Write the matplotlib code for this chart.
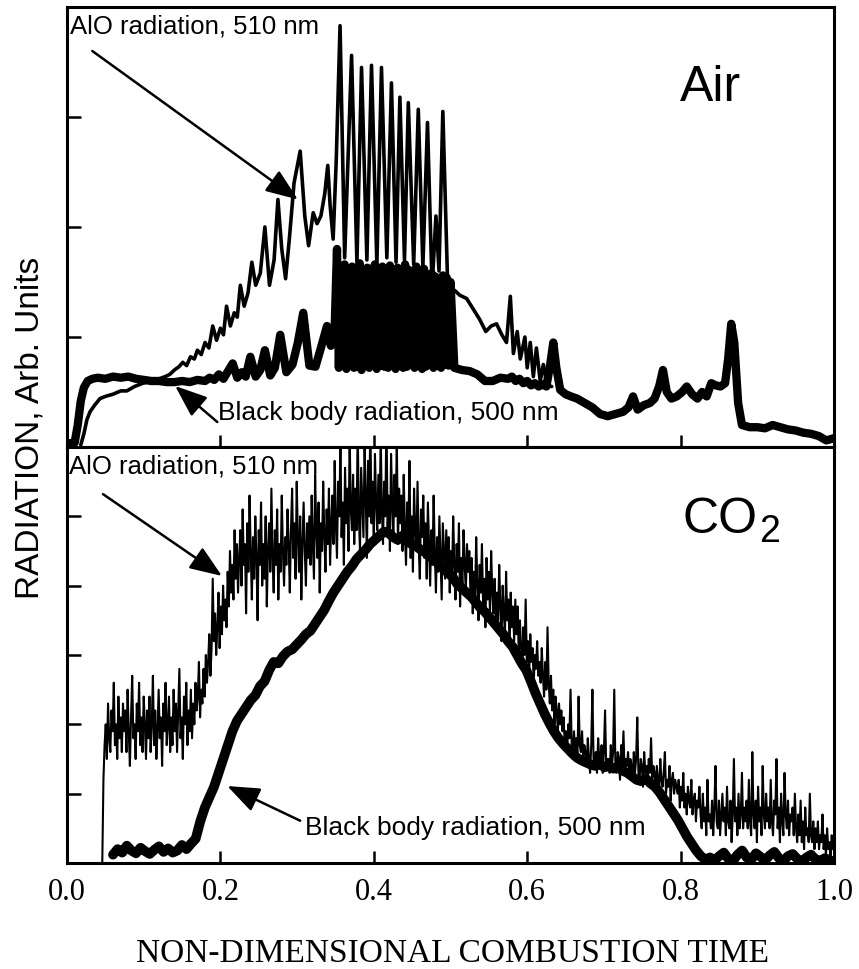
import numpy as np
import matplotlib
matplotlib.use("Agg")
import matplotlib.pyplot as plt

# ---------------- data ----------------
# Top panel (Air) - AlO radiation 510 nm (thin line)
air_alo_x = [0.018, 0.022, 0.026, 0.030, 0.036, 0.043, 0.050, 0.060, 0.070, 0.078,
             0.088, 0.099, 0.110, 0.120, 0.128, 0.134, 0.140, 0.146, 0.151, 0.156,
             0.161, 0.166, 0.170, 0.175, 0.180, 0.185, 0.190, 0.195, 0.200, 0.204,
             0.208, 0.213, 0.218, 0.222, 0.226, 0.231, 0.236, 0.241, 0.246, 0.252,
             0.258, 0.264, 0.270, 0.275, 0.280, 0.285, 0.290, 0.296, 0.304, 0.310,
             0.315, 0.321, 0.326, 0.331, 0.336, 0.340, 0.343, 0.347, 0.351, 0.356,
             0.362, 0.371, 0.378, 0.384, 0.391, 0.397, 0.404, 0.410, 0.417, 0.423,
             0.429, 0.434, 0.440, 0.445, 0.452, 0.458, 0.464, 0.470, 0.476, 0.481,
             0.485, 0.490, 0.496, 0.500, 0.506, 0.512, 0.521, 0.530, 0.538, 0.546,
             0.553, 0.560, 0.567, 0.573, 0.578, 0.582, 0.587, 0.591, 0.597, 0.600,
             0.604, 0.608, 0.612, 0.617, 0.621, 0.626, 0.632]
air_alo_y = [0.02, 0.12, 0.25, 0.32, 0.38, 0.44, 0.46, 0.48, 0.51, 0.51,
             0.55, 0.58, 0.60, 0.62, 0.64, 0.66, 0.70, 0.73, 0.77, 0.74,
             0.82, 0.80, 0.88, 0.84, 0.95, 0.90, 1.10, 0.97, 1.08, 1.02,
             1.28, 1.10, 1.22, 1.18, 1.47, 1.28, 1.40, 1.68, 1.47, 1.58,
             2.00, 1.47, 1.70, 2.25, 1.80, 1.53, 1.90, 2.40, 2.69, 2.10,
             1.83, 2.13, 2.03, 2.10, 2.30, 2.56, 2.20, 1.89, 2.60, 3.83,
             1.72, 3.56, 1.68, 3.45, 1.70, 3.47, 1.66, 3.45, 1.72, 3.31,
             1.68, 3.18, 1.70, 3.13, 1.66, 3.07, 1.64, 2.95, 1.45, 2.10,
             1.60, 3.05, 1.55, 1.45, 1.42, 1.38, 1.35, 1.25, 1.16, 1.05,
             1.10, 1.12, 1.02, 0.95, 1.37, 0.85, 1.05, 0.80, 1.00, 0.72,
             0.95, 0.64, 0.90, 0.60, 0.75, 0.56, 0.55]

# Top panel (Air) - black body radiation 500 nm (thick line)
air_bb_x_start = [0.000, 0.010, 0.014, 0.018, 0.022, 0.027, 0.033, 0.040, 0.050, 0.060,
                  0.070, 0.080, 0.090, 0.100, 0.110, 0.120, 0.130, 0.140, 0.150, 0.160,
                  0.170, 0.180, 0.186, 0.192, 0.198, 0.204, 0.210, 0.216, 0.222, 0.228,
                  0.233, 0.239, 0.246, 0.252, 0.258, 0.265, 0.271, 0.278, 0.286, 0.294,
                  0.301, 0.308, 0.316, 0.324, 0.331, 0.339, 0.344, 0.349]
air_bb_y_start = [0.03, 0.04, 0.20, 0.42, 0.54, 0.60, 0.62, 0.63, 0.62, 0.64,
                  0.63, 0.64, 0.62, 0.61, 0.60, 0.60, 0.59, 0.59, 0.60, 0.59,
                  0.61, 0.60, 0.63, 0.61, 0.66, 0.62, 0.69, 0.76, 0.63, 0.68,
                  0.64, 0.82, 0.64, 0.70, 0.88, 0.65, 0.72, 1.02, 0.68, 0.75,
                  0.95, 1.22, 0.74, 0.73, 0.90, 1.10, 0.92, 1.08]
# dense oscillation block, x from 0.352 to 0.4975 evenly
air_bb_block_range = (0.352, 0.4975)
air_bb_block_y = [1.80, 0.72, 1.62, 0.74, 1.66, 0.71, 1.58, 0.75, 1.64, 0.72,
                  1.60, 0.73, 1.67, 0.70, 1.55, 0.74, 1.63, 0.72, 1.61, 0.76,
                  1.66, 0.71, 1.59, 0.74, 1.64, 0.73, 1.57, 0.72, 1.65, 0.75,
                  1.60, 0.71, 1.63, 0.74, 1.58, 0.72, 1.66, 0.73, 1.61, 0.75,
                  1.56, 0.72, 1.64, 0.74, 1.60, 0.71, 1.62, 0.73, 1.50, 0.76,
                  1.58, 0.72, 1.55, 0.74, 1.52, 0.72, 1.56, 0.75, 1.54, 0.74]
air_bb_x_end = [0.500, 0.505, 0.515, 0.525, 0.535, 0.545, 0.555, 0.565, 0.575, 0.580,
                0.585, 0.590, 0.595, 0.600, 0.605, 0.610, 0.615, 0.620, 0.625, 0.630,
                0.634, 0.638, 0.643, 0.650, 0.657, 0.665, 0.675, 0.685, 0.695, 0.705,
                0.715, 0.725, 0.732, 0.738, 0.744, 0.752, 0.760, 0.766, 0.772, 0.777,
                0.782, 0.788, 0.795, 0.802, 0.808, 0.815, 0.822, 0.828, 0.834, 0.840,
                0.846, 0.852, 0.858, 0.862, 0.866, 0.870, 0.875, 0.880, 0.890, 0.900,
                0.910, 0.920, 0.930, 0.940, 0.950, 0.960, 0.970, 0.980, 0.990, 1.000]
air_bb_y_end = [1.50, 0.72, 0.70, 0.69, 0.66, 0.60, 0.60, 0.63, 0.62, 0.64,
                0.60, 0.62, 0.58, 0.60, 0.56, 0.58, 0.55, 0.57, 0.55, 0.75,
                0.95, 0.72, 0.52, 0.48, 0.46, 0.44, 0.40, 0.36, 0.30, 0.28,
                0.30, 0.32, 0.36, 0.46, 0.34, 0.38, 0.40, 0.44, 0.55, 0.70,
                0.50, 0.44, 0.46, 0.50, 0.55, 0.48, 0.44, 0.50, 0.46, 0.58,
                0.56, 0.55, 0.58, 0.80, 1.12, 0.95, 0.40, 0.20, 0.18, 0.18,
                0.17, 0.20, 0.18, 0.16, 0.15, 0.13, 0.12, 0.10, 0.06, 0.08]

# Bottom panel (CO2) - AlO radiation 510 nm, evenly sampled from x=0.046 to 1.0
co2_alo_range = (0.046, 1.0)
co2_alo_y = [
    0.0, 1.2, 1.7, 2.0, 1.5, 2.3, 1.8, 1.6, 2.2, 1.9, 2.6, 1.7, 2.0, 1.5, 2.4, 1.8, 2.1, 1.6, 2.3, 1.9,
    2.2, 1.6, 2.5, 1.9, 1.4, 2.1, 2.7, 1.8, 2.0, 1.5, 2.3, 1.9, 2.6, 1.7, 2.1, 1.6, 2.4, 2.0, 1.5, 2.2,
    1.8, 2.4, 1.6, 2.0, 2.7, 1.7, 2.2, 1.5, 1.9, 2.5, 1.8, 2.1, 1.4, 2.3, 1.9, 2.6, 1.7, 2.0, 2.4, 1.6,
    2.1, 1.7, 2.5, 1.9, 2.3, 1.6, 2.2, 2.8, 1.8, 2.1, 1.5, 2.4, 2.0, 2.6, 1.7, 2.2, 1.9, 2.5, 1.8, 2.3,
    2.0, 2.6, 2.2, 2.4, 2.9, 2.1, 2.5, 2.3, 2.8, 2.4, 3.0, 2.6, 2.9, 3.3, 2.7, 3.1, 4.1, 3.2, 3.6, 3.0,
    3.4, 3.9, 3.1, 3.7, 3.3, 4.0, 3.5, 3.8, 3.4, 4.2, 3.7, 4.5, 3.9, 4.3, 3.8, 4.8, 4.1, 4.6, 3.9, 4.4,
    4.8, 4.0, 5.1, 4.3, 4.6, 3.6, 4.9, 4.2, 5.3, 4.5, 3.8, 4.7, 4.1, 5.0, 4.4, 3.5, 4.8, 4.3, 5.2, 4.0,
    4.6, 4.1, 5.0, 3.7, 4.5, 4.9, 4.2, 5.4, 4.4, 3.9, 4.8, 4.3, 5.1, 3.8, 4.6, 4.2, 5.3, 4.5, 4.0, 4.7,
    4.3, 5.1, 4.6, 3.9, 4.8, 5.4, 4.4, 4.9, 4.1, 5.5, 4.7, 4.2, 5.0, 3.8, 4.6, 5.2, 4.5, 4.0, 4.9, 4.4,
    5.0, 4.3, 5.3, 4.6, 4.1, 5.6, 4.8, 4.4, 5.2, 3.9, 4.9, 4.5, 5.5, 4.7, 4.2, 5.1, 4.6, 5.4, 4.3, 4.9,
    5.3, 4.6, 5.8, 4.9, 4.4, 5.5, 5.0, 6.1, 4.7, 5.2, 4.3, 5.7, 4.9, 5.4, 4.5, 6.2, 5.1, 4.8, 5.6, 4.6,
    5.4, 4.8, 6.3, 5.0, 4.5, 5.7, 5.2, 4.7, 6.0, 5.3, 4.4, 5.8, 5.0, 6.4, 4.9, 5.5, 4.6, 5.9, 5.2, 4.8,
    5.6, 4.9, 6.2, 5.1, 4.6, 5.5, 5.0, 6.5, 4.8, 5.3, 4.5, 5.9, 5.2, 4.7, 5.6, 5.0, 6.1, 4.6, 5.4, 4.9,
    5.3, 4.5, 5.6, 4.8, 4.3, 5.2, 4.7, 5.8, 4.4, 5.0, 4.2, 5.4, 4.8, 4.5, 5.5, 4.6, 4.1, 5.1, 4.7, 5.3,
    4.4, 4.9, 4.1, 5.2, 4.6, 4.0, 4.8, 4.3, 5.3, 4.5, 3.9, 4.7, 4.2, 5.0, 4.4, 3.8, 4.9, 4.5, 4.1, 4.8,
    4.2, 4.7, 3.9, 4.5, 4.1, 5.0, 4.3, 3.8, 4.6, 4.2, 4.9, 3.7, 4.4, 4.0, 4.8, 4.3, 3.9, 4.6, 4.2, 4.5,
    3.9, 4.4, 3.6, 4.2, 3.8, 4.7, 4.0, 3.5, 4.3, 3.9, 4.6, 3.7, 4.1, 3.4, 4.4, 3.8, 4.2, 3.6, 4.5, 3.9,
    3.6, 4.1, 3.4, 3.9, 3.5, 4.3, 3.7, 3.2, 4.0, 3.6, 3.3, 4.2, 3.5, 3.8, 3.1, 3.9, 3.4, 3.7, 3.2, 3.8,
    3.3, 3.7, 3.0, 3.5, 3.1, 2.8, 3.4, 3.0, 3.8, 2.9, 3.2, 2.7, 3.3, 2.9, 3.1, 2.6, 3.0, 2.8, 3.2, 2.7,
    2.9, 2.6, 3.1, 2.7, 2.4, 2.9, 2.5, 3.4, 2.6, 2.3, 2.7, 2.2, 2.5, 2.0, 2.4, 2.2, 1.9, 2.3, 2.0, 2.2,
    1.9, 2.1, 1.7, 1.9, 1.6, 2.0, 1.8, 2.5, 1.7, 1.5, 1.9, 1.6, 1.8, 1.5, 2.4, 1.7, 1.6, 1.9, 1.5, 1.7,
    1.6, 1.4, 1.8, 1.5, 1.3, 1.7, 2.5, 1.5, 1.4, 1.6, 1.3, 1.8, 1.5, 1.4, 1.7, 1.3, 1.6, 2.2, 1.4, 1.5,
    1.5, 1.3, 1.7, 1.4, 1.6, 2.5, 1.4, 1.3, 1.6, 1.5, 1.2, 1.7, 1.4, 1.9, 1.3, 1.5, 1.4, 1.6, 1.3, 1.5,
    1.4, 1.2, 1.6, 1.3, 1.5, 2.1, 1.3, 1.2, 1.5, 1.4, 1.1, 1.6, 1.3, 1.4, 1.2, 1.5, 1.3, 1.8, 1.2, 1.4,
    1.3, 1.1, 1.4, 1.2, 1.0, 1.5, 1.2, 1.1, 1.3, 1.6, 1.0, 1.2, 1.1, 1.4, 0.9, 1.2, 1.3, 1.0, 1.2, 1.1,
    1.0, 1.2, 0.8, 1.1, 0.9, 1.3, 0.8, 1.0, 0.7, 1.1, 0.9, 0.8, 1.2, 0.7, 0.9, 1.0, 0.6, 0.9, 0.8, 1.1,
    0.7, 0.5, 1.0, 0.6, 0.8, 0.4, 1.2, 0.6, 0.7, 0.5, 0.9, 0.4, 0.8, 1.4, 0.6, 0.5, 0.9, 0.4, 0.7, 1.0,
    0.6, 0.8, 0.4, 1.1, 0.6, 0.5, 0.9, 0.3, 0.7, 1.5, 0.6, 0.8, 0.4, 1.0, 0.5, 0.7, 1.3, 0.5, 0.8, 0.6,
    0.9, 0.5, 1.2, 0.6, 0.4, 1.6, 0.7, 0.5, 0.9, 0.3, 1.1, 0.6, 0.8, 0.4, 1.4, 0.7, 0.5, 1.0, 0.6, 0.8,
    0.5, 1.2, 0.6, 0.4, 0.9, 0.7, 1.5, 0.5, 0.8, 0.3, 1.0, 0.6, 0.4, 1.3, 0.7, 0.5, 0.9, 0.4, 0.7, 0.6,
    0.8, 0.4, 1.0, 0.5, 0.3, 0.7, 0.4, 0.9, 0.3, 0.6, 0.2, 0.8, 0.4, 0.5, 0.3, 1.0, 0.4, 0.3, 0.6, 0.2,
    0.5, 0.3, 0.6, 0.2, 0.4, 0.3, 0.7, 0.2, 0.4, 0.1, 0.5, 0.2, 0.3, 0.1, 0.4, 0.2, 0.3]

# Bottom panel (CO2) - black body radiation 500 nm, evenly sampled from x=0.06 to 1.0
co2_bb_range = (0.06, 1.0)
co2_bb_y = [0.12, 0.20, 0.15, 0.25, 0.18, 0.14, 0.22, 0.17, 0.13, 0.19,
            0.24, 0.16, 0.21, 0.15, 0.18, 0.26, 0.20, 0.28, 0.35,
            0.60, 0.80, 0.95, 1.10, 1.30, 1.50, 1.70, 1.90, 2.05, 2.15,
            2.25, 2.35, 2.42, 2.55, 2.62, 2.78, 2.90, 2.88, 2.98, 3.05,
            3.08, 3.15, 3.22,
            3.30, 3.35, 3.45, 3.55, 3.65, 3.78, 3.90, 4.00, 4.10, 4.20,
            4.28, 4.38, 4.45, 4.52, 4.60, 4.66, 4.72, 4.78,
            4.76, 4.70, 4.66, 4.72, 4.64, 4.60, 4.57, 4.52, 4.48, 4.42,
            4.38, 4.30, 4.24, 4.18, 4.12, 4.02, 3.96, 3.90, 3.84, 3.76,
            3.68, 3.62, 3.54, 3.46, 3.38, 3.30, 3.20, 3.12, 3.00, 2.88,
            2.78, 2.62, 2.45, 2.30, 2.15, 2.02, 1.90, 1.80, 1.72, 1.65,
            1.58, 1.52, 1.48, 1.45, 1.42, 1.40, 1.43, 1.38, 1.40, 1.36,
            1.38, 1.33, 1.30, 1.25, 1.20, 1.18, 1.22, 1.15, 1.10, 1.02,
            0.92, 0.82, 0.72, 0.62, 0.50, 0.38, 0.28, 0.18, 0.10, 0.05,
            0.08, 0.04, 0.10, 0.15, 0.06, 0.03, 0.12, 0.18, 0.08, 0.05,
            0.14, 0.09, 0.04, 0.11, 0.16, 0.07, 0.03, 0.10, 0.13, 0.06,
            0.02, 0.08, 0.12, 0.05, 0.03, 0.07, 0.04, 0.02]

x_ticks = [0.0, 0.2, 0.4, 0.6, 0.8, 1.0]
x_tick_labels = ["0.0", "0.2", "0.4", "0.6", "0.8", "1.0"]
air_y_ticks = [1, 2, 3]
co2_y_ticks = [1, 2, 3, 4, 5]

# ---------------- figure ----------------
W, H = 859, 970
fig = plt.figure(figsize=(W / 100, H / 100), dpi=100)
SANS = "Liberation Sans"
SERIF = "Liberation Serif"

left, right = 67, 834
top_t, top_b = 8, 448
bot_t, bot_b = 448, 864
ax1 = fig.add_axes([left / W, 1 - top_b / H, (right - left) / W, (top_b - top_t) / H])
ax2 = fig.add_axes([left / W, 1 - bot_b / H, (right - left) / W, (bot_b - bot_t) / H])

rnd = dict(solid_joinstyle="round", solid_capstyle="round")

# top panel
bb_x = air_bb_x_start + list(np.linspace(*air_bb_block_range, len(air_bb_block_y))) + air_bb_x_end
bb_y = air_bb_y_start + air_bb_block_y + air_bb_y_end
ax1.plot(bb_x, bb_y, color="black", lw=6.0, **rnd, zorder=3)
ax1.plot(air_alo_x, air_alo_y, color="black", lw=2.6, **rnd, zorder=4)
ax1.set_xlim(0, 1)
ax1.set_ylim(0, 4)
ax1.set_xticks([0.2, 0.4, 0.6, 0.8])
ax1.set_yticks(air_y_ticks)
ax1.tick_params(labelbottom=False, labelleft=False)

# bottom panel
alo_x = np.linspace(*co2_alo_range, len(co2_alo_y))
ax2.plot(alo_x, co2_alo_y, color="black", lw=1.5, zorder=3)
cbb_x = np.linspace(*co2_bb_range, len(co2_bb_y))
ax2.plot(cbb_x, co2_bb_y, color="black", lw=7.0, **rnd, zorder=4)
ax2.set_xlim(0, 1)
ax2.set_ylim(0, 6)
ax2.set_xticks(x_ticks)
ax2.set_xticklabels(x_tick_labels, fontfamily=SERIF, fontsize=22)
ax2.set_yticks(co2_y_ticks)
ax2.tick_params(labelleft=False)

for ax in (ax1, ax2):
    for s in ax.spines.values():
        s.set_linewidth(2.2)
    ax.tick_params(direction="in", length=10, width=1.8, pad=10)
    ax.tick_params(axis="x", length=9)

# annotations, top
arrow = dict(arrowstyle="-|>,head_length=0.9,head_width=0.35", color="black", lw=1.8,
             shrinkA=0, shrinkB=0, mutation_scale=22)
ax1.text(0.004, 3.83, "AlO radiation, 510 nm", fontfamily=SANS, fontsize=18.5,
         ha="left", va="center", zorder=6)
ax1.annotate("", xy=(0.301, 2.25), xytext=(0.033, 3.60), arrowprops=arrow, zorder=6)
ax1.text(0.197, 0.318, "Black body radiation, 500 nm", fontfamily=SANS, fontsize=19,
         ha="left", va="center", zorder=6,
         bbox=dict(facecolor="white", edgecolor="none", pad=0.5))
ax1.annotate("", xy=(0.141, 0.555), xytext=(0.196, 0.227), arrowprops=arrow, zorder=6)
ax1.text(0.799, 3.27, "Air", fontfamily=SANS, fontsize=36, ha="left", va="center")

# annotations, bottom
ax2.text(0.002, 5.73, "AlO radiation, 510 nm", fontfamily=SANS, fontsize=18.5,
         ha="left", va="center", zorder=6)
ax2.annotate("", xy=(0.202, 4.14), xytext=(0.047, 5.32), arrowprops=arrow, zorder=6)
ax2.text(0.31, 0.52, "Black body radiation, 500 nm", fontfamily=SANS, fontsize=19,
         ha="left", va="center", zorder=6)
ax2.annotate("", xy=(0.209, 1.11), xytext=(0.304, 0.61), arrowprops=arrow, zorder=6)
ax2.text(0.803, 4.96, "CO", fontfamily=SANS, fontsize=36, ha="left", va="center")
ax2.text(0.903, 4.79, "2", fontfamily=SANS, fontsize=27, ha="left", va="center")

# axis labels
fig.text(30 / W, 1 - 428 / H, "RADIATION, Arb. Units", fontfamily=SANS, fontsize=24,
         rotation=90, ha="center", va="center")
fig.text(452 / W, 1 - 954 / H, "NON-DIMENSIONAL COMBUSTION TIME", fontfamily=SERIF,
         fontsize=24, ha="center", va="center")

fig.savefig("out.png", dpi=100)
